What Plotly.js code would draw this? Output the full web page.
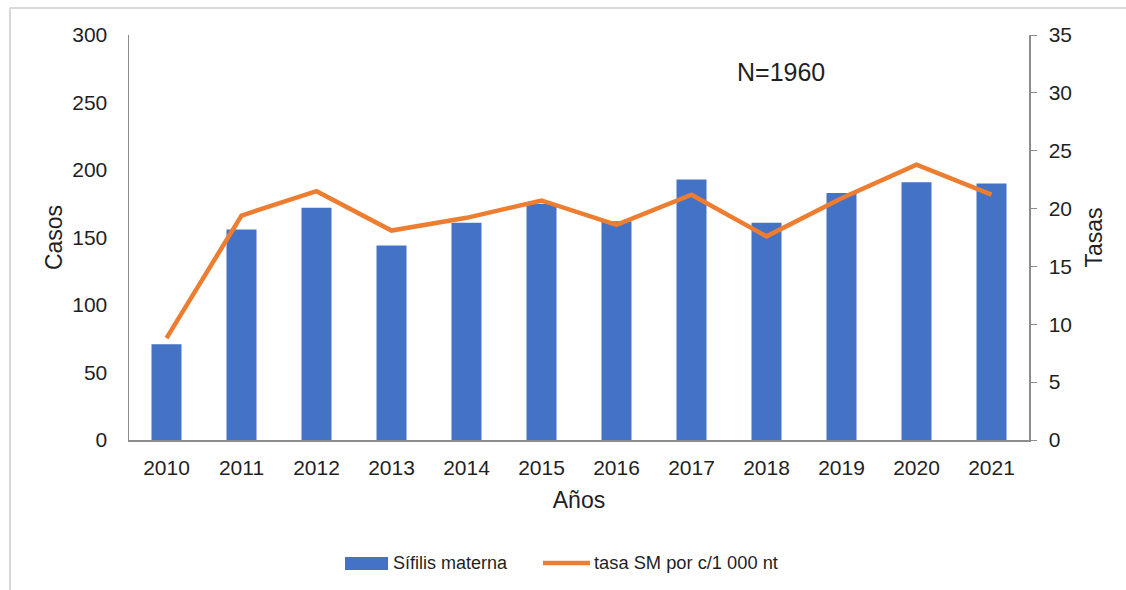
<!DOCTYPE html>
<html>
<head>
<meta charset="utf-8">
<script src="https://cdn.plot.ly/plotly-3.0.1.min.js"></script>
<style>html,body{margin:0;padding:0;background:#fff;}#chart{width:1126px;height:590px;}</style>
</head>
<body>
<div id="chart"></div>
<script>
const years = ["2010","2011","2012","2013","2014","2015","2016","2017","2018","2019","2020","2021"];
const casos = [71, 156, 172, 144, 161, 175, 162, 193, 161, 183, 191, 190];
const tasas = [8.8, 19.4, 21.5, 18.1, 19.2, 20.7, 18.6, 21.2, 17.6, 20.9, 23.8, 21.2];
const leftTicks = [0, 50, 100, 150, 200, 250, 300];
const rightTicks = [0, 5, 10, 15, 20, 25, 30, 35];
const barName = "Sífilis materna";
const lineName = "tasa SM por c/1 000 nt";

const barColor = "#4472C4";
const lineColor = "#ED7D31";
const txt = "#1f1f1f";
const fam = "Liberation Sans, Arial, sans-serif";
const tickFont = {family: fam, size: 21, color: txt};
const titleFont = {family: fam, size: 23, color: txt};

const traces = [
  {type: "bar", x: years, y: casos, name: barName, marker: {color: barColor}, yaxis: "y"},
  {type: "scatter", mode: "lines", x: years, y: tasas, name: lineName,
   line: {color: lineColor, width: 4.5}, yaxis: "y2"}
];

const layout = {
  width: 1126, height: 590,
  margin: {l: 129, r: 97, t: 35, b: 150, autoexpand: false},
  paper_bgcolor: "#fff", plot_bgcolor: "#fff",
  font: tickFont,
  bargap: 0.6,
  showlegend: false,
  xaxis: {
    type: "category", showline: true, linecolor: "#8c8c8c", linewidth: 1.5, ticks: "",
    showgrid: false, zeroline: false, tickfont: tickFont, ticklabelstandoff: 8,
    title: {text: "Años", font: titleFont, standoff: 14}
  },
  yaxis: {
    range: [0, 300], tickvals: leftTicks, showline: true, linecolor: "#8c8c8c", linewidth: 1.5,
    ticks: "", showgrid: false, zeroline: false, tickfont: tickFont, ticklabelstandoff: 16,
    title: {text: "Casos", font: titleFont, standoff: 3}
  },
  yaxis2: {
    range: [0, 35], tickvals: rightTicks, overlaying: "y", side: "right", showline: true,
    linecolor: "#8c8c8c", linewidth: 1.5, ticks: "outside", ticklen: 6, tickcolor: "#8c8c8c",
    showgrid: false, zeroline: false, tickfont: tickFont, ticklabelstandoff: 8,
    title: {text: "Tasas", font: titleFont, standoff: 15}
  },
  annotations: [
    {text: "N=1960", xref: "paper", yref: "paper", x: 0.724, y: 0.909, xanchor: "center", yanchor: "middle",
     showarrow: false, font: {family: fam, size: 25, color: txt}},
    {text: barName, xref: "paper", yref: "paper", x: 0.2911, y: -0.3037, xanchor: "left", yanchor: "middle",
     showarrow: false, font: {family: fam, size: 18, color: txt}},
    {text: lineName, xref: "paper", yref: "paper", x: 0.5144, y: -0.3037, xanchor: "left", yanchor: "middle",
     showarrow: false, font: {family: fam, size: 18.3, color: txt}}
  ],
  shapes: [
    {type: "rect", xref: "paper", yref: "paper", x0: 0.24, x1: 0.2878, y0: -0.321, y1: -0.289,
     fillcolor: barColor, line: {width: 0}},
    {type: "line", xref: "paper", yref: "paper", x0: 0.46, x1: 0.5122, y0: -0.3037, y1: -0.3037,
     line: {color: lineColor, width: 4.5}},
    {type: "line", xref: "paper", yref: "paper", x0: -0.1322, x1: 1.11, y0: 1.0667, y1: 1.0667,
     line: {color: "#d9d9d9", width: 2}},
    {type: "line", xref: "paper", yref: "paper", x0: -0.1322, x1: -0.1322, y0: 1.0667, y1: -0.38,
     line: {color: "#d9d9d9", width: 2}}
  ]
};

Plotly.newPlot("chart", traces, layout, {displayModeBar: false, staticPlot: true});
</script>
</body>
</html>
